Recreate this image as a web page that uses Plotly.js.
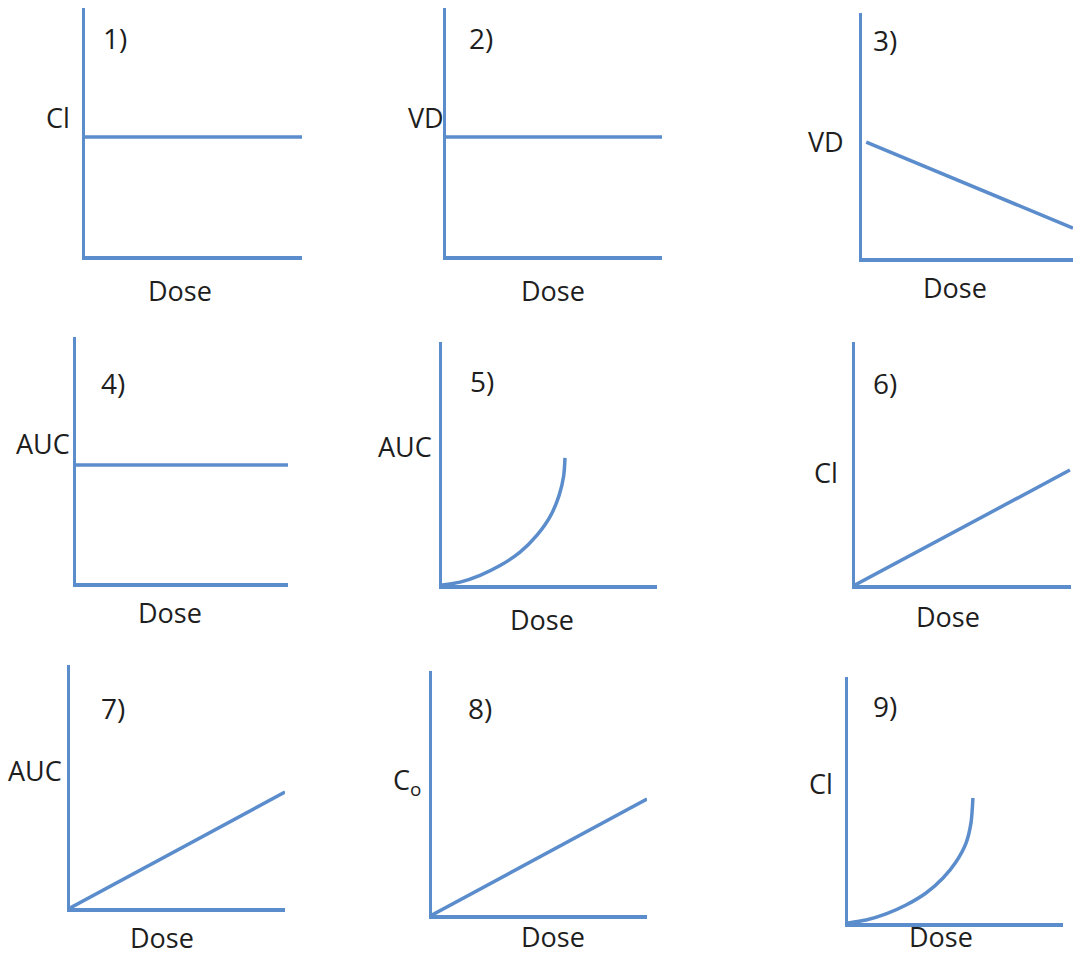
<!DOCTYPE html>
<html>
<head>
<meta charset="utf-8">
<script src="https://cdn.plot.ly/plotly-3.0.1.min.js"></script>
<style>html,body{margin:0;padding:0;background:#fff;}#chart{width:1073px;height:955px;}</style>
</head>
<body>
<div id="chart"></div>
<script>
// ---- data (arbitrary units, axes 0..10) ----
const panelNumbers = ["1)", "2)", "3)", "4)", "5)", "6)", "7)", "8)", "9)"];
const yLabels = ["Cl", "VD", "VD", "AUC", "AUC", "Cl", "AUC", "C<sub>o</sub>", "Cl"];
const xLabel = "Dose";

const p1x = [0, 10];           const p1y = [4.8, 4.8];
const p2x = [0, 10];           const p2y = [4.8, 4.8];
const p3x = [0.2, 10];         const p3y = [4.73, 1.22];
const p4x = [0, 10];           const p4y = [4.8, 4.8];
const p5x = [0, 0.84, 1.77, 2.70, 3.63, 4.42, 5.02, 5.45, 5.66, 5.72];
const p5y = [0, 0.12, 0.4, 0.8, 1.35, 2.05, 2.8, 3.7, 4.5, 5.23];
const p6x = [0, 9.95];         const p6y = [0, 4.73];
const p7x = [0, 10];           const p7y = [0, 4.77];
const p8x = [0, 10];           const p8y = [0, 4.75];
const p9x = [0, 0.84, 1.77, 2.70, 3.63, 4.42, 5.02, 5.49, 5.72, 5.81];
const p9y = [0, 0.12, 0.37, 0.73, 1.22, 1.83, 2.48, 3.25, 4.07, 5.08];

const seriesX = [p1x, p2x, p3x, p4x, p5x, p6x, p7x, p8x, p9x];
const seriesY = [p1y, p2y, p3y, p4y, p5y, p6y, p7y, p8y, p9y];
const curved = [false, false, false, false, true, false, false, false, true];

// ---- layout geometry (pixels) ----
const W = 1073, H = 955;
// [left, right, bottom, top]
const boxes = [
  [85, 302, 256, 8],
  [446, 662, 256, 8],
  [862, 1073, 258, 13],
  [76, 288, 583, 337],
  [442, 657, 585, 342],
  [855, 1071, 585, 342],
  [70, 285, 908, 665],
  [432, 647, 915, 671],
  [848, 1063, 923, 677]
];
const numPos = [[115, 38], [481, 38], [885, 40], [113, 383], [482, 381], [885, 383], [113, 708], [480, 708], [885, 706]];
const yLabPos = [[58, 117], [426, 117], [826, 142], [43, 443], [405, 447], [826, 472], [35, 770], [407, 781], [821, 783]];
const xLabPos = [[180, 290], [553, 290], [955, 287], [170, 612], [542, 619], [948, 616], [162, 937], [553, 936], [941, 936]];

const blue = "#5b8ccb";
const textColor = "#1e1e1e";
const fontFam = "'Open Sans', 'DejaVu Sans', sans-serif";

const traces = [];
const layout = {
  width: W, height: H,
  margin: {l: 0, r: 0, t: 0, b: 0},
  paper_bgcolor: "#ffffff",
  plot_bgcolor: "rgba(0,0,0,0)",
  showlegend: false,
  annotations: []
};

const px = v => v / W;
const py = v => 1 - v / H;

for (let i = 0; i < 9; i++) {
  const s = i === 0 ? "" : String(i + 1);
  traces.push({
    x: seriesX[i], y: seriesY[i],
    xaxis: "x" + s, yaxis: "y" + s,
    type: "scatter", mode: "lines",
    line: {color: blue, width: 3.5, shape: curved[i] ? "spline" : "linear", smoothing: 0.8},
    hoverinfo: "skip"
  });
  const b = boxes[i];
  const axCommon = {
    range: [0, 10], showgrid: false, zeroline: false, showticklabels: false,
    ticks: "", showline: true, linecolor: blue, linewidth: 3.5, fixedrange: true
  };
  layout["xaxis" + s] = Object.assign({}, axCommon, {
    domain: [px(b[0]), px(b[1])], anchor: "y" + s
  });
  layout["yaxis" + s] = Object.assign({}, axCommon, {
    domain: [py(b[2]), py(b[3])], anchor: "x" + s
  });
  layout.annotations.push({
    text: panelNumbers[i], x: px(numPos[i][0]), y: py(numPos[i][1]),
    xref: "paper", yref: "paper", showarrow: false,
    xanchor: "center", yanchor: "middle",
    font: {family: fontFam, size: 28, color: textColor}
  });
  layout.annotations.push({
    text: yLabels[i], x: px(yLabPos[i][0]), y: py(yLabPos[i][1]),
    xref: "paper", yref: "paper", showarrow: false,
    xanchor: "center", yanchor: "middle",
    font: {family: fontFam, size: 27, color: textColor}
  });
  layout.annotations.push({
    text: xLabel, x: px(xLabPos[i][0]), y: py(xLabPos[i][1]),
    xref: "paper", yref: "paper", showarrow: false,
    xanchor: "center", yanchor: "middle",
    font: {family: fontFam, size: 27, color: textColor}
  });
}

Plotly.newPlot("chart", traces, layout, {staticPlot: true, displayModeBar: false});
</script>
</body>
</html>
